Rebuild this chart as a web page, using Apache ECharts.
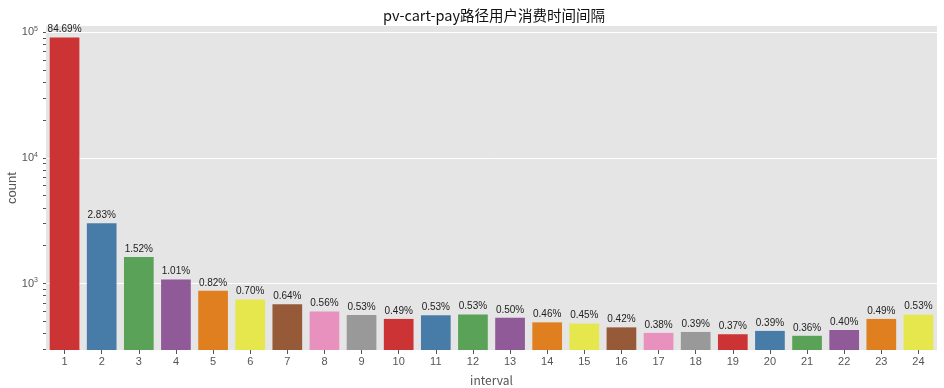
<!DOCTYPE html>
<html>
<head>
<meta charset="utf-8">
<script src="https://cdn.jsdelivr.net/npm/echarts@6/dist/echarts.min.js"></script>
<style>
html,body{margin:0;padding:0;background:#fff;}
#chart{width:944px;height:388px;}
</style>
</head>
<body>
<div id="chart"></div>
<script>
const titleText = 'pv-cart-pay路径用户消费时间间隔';
const categories = ['1','2','3','4','5','6','7','8','9','10','11','12','13','14','15','16','17','18','19','20','21','22','23','24'];
const counts = [90364, 3020, 1622, 1078, 875, 747, 683, 598, 562, 523, 560, 568, 534, 491, 480, 448, 405, 412, 395, 420, 384, 427, 523, 565];
const pctLabels = ['84.69%','2.83%','1.52%','1.01%','0.82%','0.70%','0.64%','0.56%','0.53%','0.49%','0.53%','0.53%','0.50%','0.46%','0.45%','0.42%','0.38%','0.39%','0.37%','0.39%','0.36%','0.40%','0.49%','0.53%'];
const palette = ['#cb3335','#477ca8','#59a257','#905998','#df7f20','#e6e64d','#965a38','#e890be','#999999'];
const majorTicks = [1000, 10000, 100000];
const minorTicks = [300,400,500,600,700,800,900,1000,2000,3000,4000,5000,6000,7000,8000,9000,10000,20000,30000,40000,50000,60000,70000,80000,90000,100000];
const yMin = 296, yMax = 111700;

const chart = echarts.init(document.getElementById('chart'), null, {renderer:'canvas'});
chart.setOption({
  animation: false,
  backgroundColor: '#ffffff',
  title: {
    text: titleText, left: 489, top: 3, textAlign: 'center',
    textStyle: {fontFamily: "'Noto Sans CJK SC'", fontSize: 14.5, fontWeight: 'normal', color: '#111'}
  },
  grid: {left: 46, right: 7, top: 26, bottom: 38, show: true, backgroundColor: '#e5e5e5', borderWidth: 0,
         outerBoundsMode: 'none', containLabel: false},
  xAxis: {
    type: 'category', data: categories,
    name: 'interval', nameLocation: 'middle', nameGap: 24, nameMoveOverlap: false,
    nameTextStyle: {fontFamily: "'Noto Sans CJK SC'", fontSize: 12, color: '#555'},
    axisLine: {show: false},
    axisTick: {show: true, alignWithLabel: true, length: 4, lineStyle: {color: '#555'}},
    axisLabel: {color: '#555', fontSize: 11, fontFamily: 'Liberation Sans', margin: 6},
    splitLine: {show: false}
  },
  yAxis: [{
    type: 'log', min: yMin, max: yMax, logBase: 10,
    name: 'count', nameLocation: 'middle', nameGap: 27, nameRotate: 90, nameMoveOverlap: false,
    nameTextStyle: {fontFamily: 'Liberation Sans', fontSize: 13, color: '#555'},
    axisLine: {show: false},
    axisTick: {show: false},
    axisLabel: {
      customValues: majorTicks,
      color: '#555', fontSize: 11, fontFamily: 'Liberation Sans', margin: 8,
      formatter: function (v) {
        const e = Math.round(Math.log10(v));
        if (Math.abs(Math.pow(10, e) - v) > 1e-6 * v) return '';
        return '10{s|' + e + '}';
      },
      rich: {s: {fontSize: 7, color: '#555', fontFamily: 'Liberation Sans', verticalAlign: 'top', padding: [0,0,6,0]}}
    },
    splitLine: {show: true, showMinLine: false, showMaxLine: false, lineStyle: {color: '#ffffff', width: 1}}
  }, {
    type: 'log', min: yMin, max: yMax, logBase: 10, position: 'left',
    axisLine: {show: false},
    axisTick: {show: true, customValues: minorTicks, length: 3, lineStyle: {color: '#555'}},
    axisLabel: {show: false},
    splitLine: {show: false}
  }],
  series: [{
    type: 'bar', yAxisIndex: 0,
    barWidth: '80%',
    data: counts.map(function (c, i) { return {value: c, itemStyle: {color: palette[i % palette.length]}}; }),
    label: {
      show: true, position: 'top', distance: 3,
      formatter: function (p) { return pctLabels[p.dataIndex]; },
      color: '#222', fontSize: 10, fontFamily: 'Liberation Sans'
    }
  }]
});
</script>
</body>
</html>
